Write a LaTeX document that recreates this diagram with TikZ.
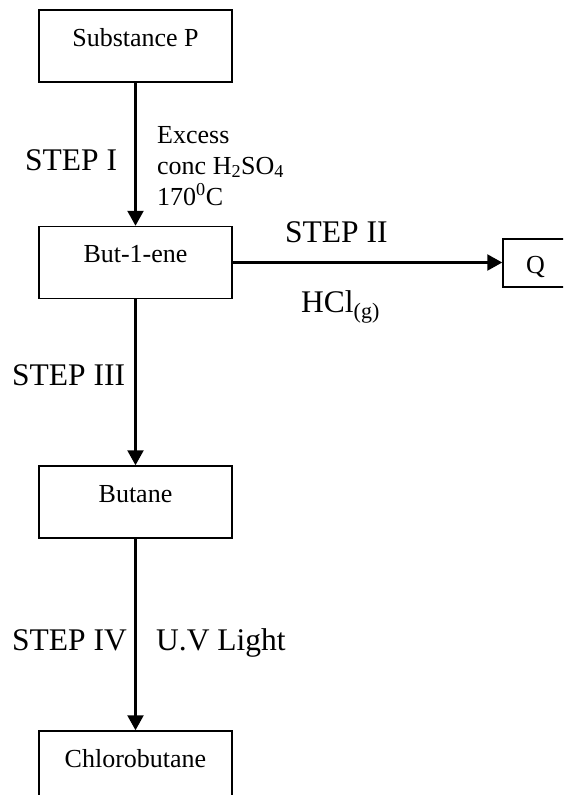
\documentclass[tikz,border=0pt]{standalone}
\usepackage{fontspec}
\setmainfont{Liberation Serif}
\usetikzlibrary{arrows.meta}
\tikzset{
  box/.style={draw, line width=1.5pt, minimum width=193pt, minimum height=72pt, inner sep=0pt,
    text height=8pt, text depth=8pt, font=\fontsize{26}{31}\selectfont},
  big/.style={font=\fontsize{31.5}{38}\selectfont, inner sep=0pt, anchor=base west},
  small/.style={font=\fontsize{26}{31}\selectfont, inner sep=0pt, anchor=base west},
  arr/.style={line width=2.3pt, -{Triangle[width=16pt,length=15pt]}}
}
\begin{document}
\begin{tikzpicture}[x=1pt,y=-1pt]
\useasboundingbox (0,0) rectangle (563,795);
\clip (0,0) rectangle (563,795);
\fill[white] (0,0) rectangle (563,795);
% boxes
\node[box] (p) at (135.5,46) {Substance P};
\node[box] (b) at (135.5,262.5) {But-1-ene};
\node[box] (u) at (135.5,502) {Butane};
\node[box] (c) at (135.5,767) {Chlorobutane};
\node[box, minimum width=65pt, minimum height=48pt, text height=20pt, text depth=0pt] (q) at (535.5,263) {Q};
% arrows
\draw[arr] (p.south) -- (b.north);
\draw[arr] (b.east) -- (b.east -| q.west);
\draw[arr] (b.south) -- (u.north);
\draw[arr] (u.south) -- (c.north);
% labels
\node[big] (s1) at (25,170) {STEP I};
\node[small] (r1) at (157,143) {Excess};
\node[small] (r2) at (157,174) {conc H\textsubscript{2}SO\textsubscript{4}};
\node[small] (r3) at (157,205) {170\textsuperscript{0}C};
\node[big] (s2) at (285,242) {STEP II};
\node[big] (h) at (301,312) {HCl\textsubscript{(g)}};
\node[big] (s3) at (12,385) {STEP III};
\node[big] (s4) at (12,650) {STEP IV};
\node[big] (uv) at (156,650) {U.V Light};
\end{tikzpicture}
\end{document}
